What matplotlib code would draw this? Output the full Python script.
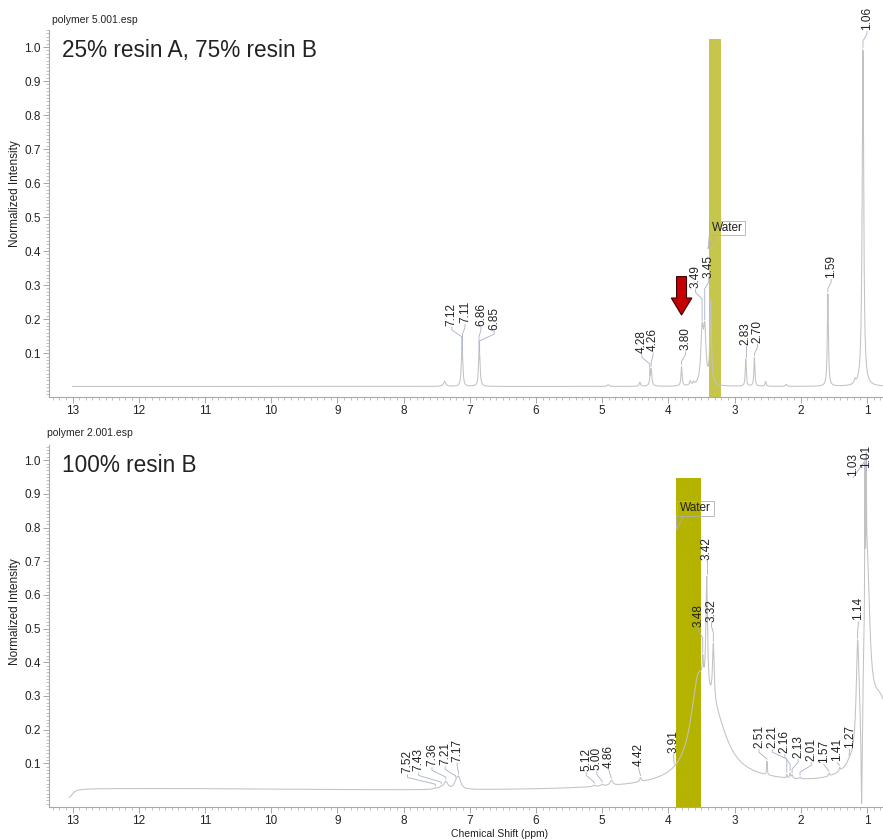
import numpy as np
import matplotlib
matplotlib.use("Agg")
import matplotlib.pyplot as plt
from matplotlib.patches import FancyArrow, Rectangle, Polygon
from matplotlib.ticker import MultipleLocator, FixedLocator, FormatStrFormatter

plt.rcParams['font.family'] = ['Liberation Sans', 'DejaVu Sans']

# ---------------- spectrum 1: 25% resin A, 75% resin B ----------------
# peak list: chemical shift (ppm), height (normalized), half-width (ppm)
top_shift = [7.38, 7.12, 7.11, 6.86, 6.85, 4.91, 4.43, 4.28, 4.26, 3.80, 3.67, 3.62,
             3.49, 3.45, 3.36, 2.83, 2.70, 2.53, 2.22, 1.59, 1.18, 1.06]
top_height = [0.015, 0.068, 0.066, 0.064, 0.062, 0.005, 0.012, 0.010, 0.050, 0.057, 0.012, 0.008,
              0.150, 0.150, 0.240, 0.080, 0.084, 0.014, 0.006, 0.272, 0.012, 0.990]
top_width = [0.020, 0.011, 0.011, 0.011, 0.011, 0.015, 0.012, 0.012, 0.013, 0.010, 0.012, 0.012,
             0.022, 0.022, 0.014, 0.009, 0.009, 0.010, 0.012, 0.010, 0.012, 0.014]
top_offset = 0.002
top_labels = ["7.12", "7.11", "6.86", "6.85", "4.28", "4.26", "3.80",
              "3.49", "3.45", "2.83", "2.70", "1.59", "1.06"]

# ---------------- spectrum 2: 100% resin B ----------------
bot_shift = [13.05, 12.0, 3.0, 7.52, 7.43, 7.36, 7.21, 7.17, 5.12, 5.00, 4.86, 4.42,
             3.55, 3.32, 3.48, 3.42, 3.32, 2.51, 2.21, 2.16, 2.13, 2.01, 1.57, 1.41,
             1.27, 1.14, 1.08, 1.03, 1.01, 1.00, 0.80]
bot_height = [-0.025, 0.012, 0.030, 0.004, 0.006, 0.022, 0.012, 0.035, 0.004, 0.005, 0.015, 0.012,
              0.220, 0.180, 0.060, 0.340, 0.170, 0.040, 0.010, 0.015, 0.010, 0.005, 0.008, 0.010,
              0.005, 0.300, -0.360, 0.420, 0.300, 0.550, 0.250]
bot_width = [0.06, 4.0, 1.5, 0.03, 0.03, 0.035, 0.03, 0.04, 0.02, 0.02, 0.025, 0.015,
             0.13, 0.25, 0.010, 0.015, 0.015, 0.006, 0.006, 0.008, 0.010, 0.010, 0.010, 0.010,
             0.020, 0.025, 0.012, 0.004, 0.004, 0.050, 0.250]
bot_offset = 0.012
bot_labels = ["7.52", "7.43", "7.36", "7.21", "7.17", "5.12", "5.00", "4.86", "4.42", "3.91",
              "3.48", "3.42", "3.32", "2.51", "2.21", "2.16", "2.13", "2.01", "1.57", "1.41",
              "1.27", "1.14", "1.03", "1.01"]

# ---------------- layout: label anchors (ppm, intensity of text base) ----------------
top_label_pos = [(7.27, 0.176), (7.07, 0.184), (6.83, 0.176), (6.63, 0.164), (4.40, 0.096),
                 (4.23, 0.101), (3.74, 0.104), (3.59, 0.287), (3.39, 0.317), (2.83, 0.120),
                 (2.65, 0.126), (1.54, 0.317), (1.00, 1.046)]
bot_label_pos = [(7.94, 0.066), (7.77, 0.072), (7.57, 0.087), (7.37, 0.090), (7.19, 0.101),
                 (5.24, 0.072), (5.08, 0.075), (4.90, 0.081), (4.45, 0.087), (3.92, 0.126),
                 (3.54, 0.500), (3.42, 0.700), (3.35, 0.516), (2.63, 0.141), (2.43, 0.141),
                 (2.24, 0.126), (2.04, 0.111), (1.84, 0.102), (1.65, 0.096), (1.45, 0.102),
                 (1.26, 0.141), (1.13, 0.520), (1.21, 0.948), (1.01, 0.972)]

LINE = '#c2c2c2'
LEADER = '#a9b0c8'
SPINE = '#a8a8a8'
TEXT = '#222222'
XMIN, XMAX = 13.355, 0.757


def spectrum(ppm, shifts, heights, widths, offset):
    s = np.full_like(ppm, offset)
    for c, h, w in zip(shifts, heights, widths):
        s += h / (1.0 + ((ppm - c) / w) ** 2)
    return s


def style_axes(ax, ylo, yhi):
    ax.set_xlim(XMIN, XMAX)
    ax.set_ylim(ylo, yhi)
    for side in ('top', 'right'):
        ax.spines[side].set_visible(False)
    for side in ('left', 'bottom'):
        ax.spines[side].set_color(SPINE)
        ax.spines[side].set_linewidth(0.8)
    ax.xaxis.set_major_locator(FixedLocator(np.arange(1, 14)))
    ax.xaxis.set_major_formatter(FormatStrFormatter('%d'))
    ax.xaxis.set_minor_locator(MultipleLocator(0.1))
    ax.yaxis.set_major_locator(FixedLocator(np.round(np.arange(0.1, 1.01, 0.1), 1)))
    ax.yaxis.set_major_formatter(FormatStrFormatter('%.1f'))
    ax.yaxis.set_minor_locator(MultipleLocator(0.01))
    ax.tick_params(which='major', length=4, width=0.7, color=SPINE, labelsize=8.5,
                   labelcolor=TEXT, pad=2)
    ax.tick_params(which='minor', length=2.5, width=0.5, color=SPINE)
    ax.patch.set_alpha(0)


def draw_labels(ax, ppm, spec, labels, positions):
    rev_ppm, rev_spec = ppm[::-1], spec[::-1]
    for text, (lx, ly) in zip(labels, positions):
        px = float(text)
        py = np.interp(px, rev_ppm, rev_spec) + 0.006
        k1, k2 = ly - 0.008, ly - 0.028
        if py < k2:
            xs, ys = [lx, lx, px, px], [ly, k1, k2, py]
        else:
            xs, ys = [lx, px], [ly, py]
        ax.plot(xs, ys, color=LEADER, lw=0.6, zorder=3)
        ax.text(lx, ly + 0.004, text, rotation=90, ha='center', va='bottom',
                fontsize=8.5, color=TEXT, zorder=4)


def water_callout(ax, x0, x1, y0, y1, tip):
    ax.add_patch(Rectangle((x0, y0), x1 - x0, y1 - y0, fill=False, ec='#b0b0b0',
                           lw=0.6, zorder=4))
    ax.add_patch(Polygon([(x0, y0), tip, (x0 - 0.6 * (x0 - x1) * 0.3, y0)], closed=False,
                         fill=False, ec='#b0b0b0', lw=0.6, zorder=4))
    ax.text((x0 + x1) / 2, (y0 + y1) / 2, "Water", ha='center', va='center',
            fontsize=8.5, color=TEXT, zorder=5)


fig = plt.figure(figsize=(8.83, 8.40), dpi=100)
W, H = 883.0, 840.0
left = 49 / W
ax1 = fig.add_axes([left, (H - 397) / H, 1 - left, 367 / H])
ax2 = fig.add_axes([left, (H - 807) / H, 1 - left, 362 / H])

# top spectrum
ppm1 = np.linspace(13.0, 0.757, 14000)
spec1 = spectrum(ppm1, top_shift, top_height, top_width, top_offset)
style_axes(ax1, -0.029, 1.05)
ax1.add_patch(Rectangle((3.21, -0.029), 0.17, 1.053, fc='#c6c64c', ec='none', zorder=1))
ax1.plot(ppm1, spec1, color=LINE, lw=0.75, zorder=2)
draw_labels(ax1, ppm1, spec1, top_labels, top_label_pos)
water_callout(ax1, 3.38, 2.84, 0.447, 0.489, (3.40, 0.406))
ax1.add_patch(FancyArrow(3.80, 0.325, 0, -0.113, width=0.15, head_width=0.31,
                         head_length=0.05, length_includes_head=True,
                         fc='#c40000', ec='#3a0000', lw=0.8, zorder=5))

# bottom spectrum
ppm2 = np.linspace(13.05, 0.757, 14000)
spec2 = spectrum(ppm2, bot_shift, bot_height, bot_width, bot_offset)
style_axes(ax2, -0.0297, 1.045)
ax2.add_patch(Rectangle((3.50, -0.0297), 0.38, 0.977, fc='#b4b400', ec='none', zorder=1))
ax2.plot(ppm2, spec2, color=LINE, lw=0.75, zorder=2)
draw_labels(ax2, ppm2, spec2, bot_labels, bot_label_pos)
water_callout(ax2, 3.87, 3.31, 0.834, 0.879, (3.88, 0.792))

# headers and axis titles
fig.text(52 / W, 1 - 20 / H, "polymer 5.001.esp", fontsize=7.5, color=TEXT, va='center')
fig.text(47 / W, 1 - 433 / H, "polymer 2.001.esp", fontsize=7.5, color=TEXT, va='center')
fig.text(62 / W, 1 - 50 / H, "25% resin A, 75% resin B", fontsize=16.3, color=TEXT, va='center')
fig.text(62 / W, 1 - 465 / H, "100% resin B", fontsize=16.3, color=TEXT, va='center')
fig.text(15 / W, 1 - 194 / H, "Normalized Intensity", fontsize=8.5, color=TEXT,
         rotation=90, ha='center', va='center')
fig.text(15 / W, 1 - 612 / H, "Normalized Intensity", fontsize=8.5, color=TEXT,
         rotation=90, ha='center', va='center')
fig.text(500 / W, 1 - 834 / H, "Chemical Shift (ppm)", fontsize=7.5, color=TEXT,
         ha='center', va='center')

fig.savefig("out.png", dpi=100, facecolor='white')
